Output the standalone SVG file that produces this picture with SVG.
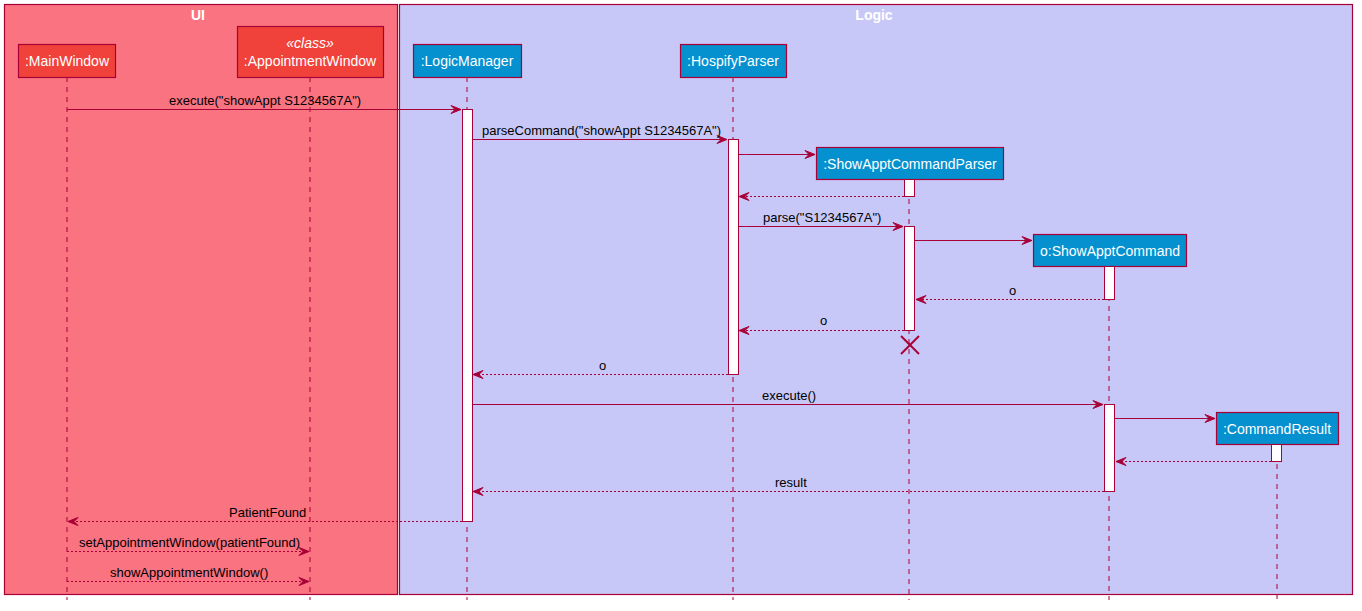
<svg xmlns="http://www.w3.org/2000/svg" width="1362" height="611" viewBox="0 0 1362 611">
<defs>
<style>
.box{stroke:#A80036;stroke-width:1.2}
.ui{fill:#F0423A}
.lg{fill:#0591CF}
.pn{font-family:"Liberation Sans",Arial,sans-serif;font-size:14px;fill:#FFFFFF;text-anchor:middle}
.ttl{font-family:"Liberation Sans",Arial,sans-serif;font-size:14px;font-weight:bold;fill:#FFFFFF;text-anchor:middle}
.msg{font-family:"Liberation Sans",Arial,sans-serif;font-size:13px;fill:#000000}
.life{stroke:#A80036;stroke-width:1;stroke-dasharray:5,5;fill:none}
.act{fill:#FFFFFF;stroke:#A80036;stroke-width:1}
.call{stroke:#A80036;stroke-width:1;fill:none}
.ret{stroke:#A80036;stroke-width:1;stroke-dasharray:2,2;fill:none}
.ah{fill:#A80036;stroke:#A80036;stroke-width:1}
</style>
</defs>
<rect width="1362" height="611" fill="#FFFFFF"/>
<g id="box-ui">
<rect x="4.5" y="4.5" width="393" height="590" fill="#F97381" stroke="#A80036" stroke-width="1.2"/>
<text class="ttl" x="198" y="20">UI</text>
</g>
<g id="box-logic">
<rect x="399.5" y="4.5" width="953" height="590" fill="#C8C8F8" stroke="#A80036" stroke-width="1.2"/>
<text class="ttl" x="874" y="20">Logic</text>
</g>
<g id="lifelines">
<line class="life" x1="67" y1="77" x2="67" y2="600"/>
<line class="life" x1="310" y1="77" x2="310" y2="600"/>
<line class="life" x1="467" y1="77" x2="467" y2="600"/>
<line class="life" x1="733" y1="77" x2="733" y2="600"/>
<line class="life" x1="909" y1="179" x2="909" y2="600"/>
<line class="life" x1="1109" y1="266" x2="1109" y2="600"/>
<line class="life" x1="1277" y1="444" x2="1277" y2="600"/>
</g>
<g id="MainWindow">
<rect class="box ui" x="18.5" y="44.5" width="97" height="33"/>
<text class="pn" x="67" y="66">:MainWindow</text>
</g>
<g id="AppointmentWindow">
<rect class="box ui" x="237.5" y="26.5" width="146" height="51"/>
<text class="pn" x="310" y="48" font-style="italic">«class»</text>
<text class="pn" x="310" y="66">:AppointmentWindow</text>
</g>
<g id="LogicManager">
<rect class="box lg" x="413.5" y="44.5" width="108" height="33"/>
<text class="pn" x="467" y="66">:LogicManager</text>
</g>
<g id="HospifyParser">
<rect class="box lg" x="680.5" y="44.5" width="106" height="33"/>
<text class="pn" x="733" y="66">:HospifyParser</text>
</g>
<g id="ShowApptCommandParser">
<rect class="box lg" x="816.5" y="147.5" width="187" height="32"/>
<text class="pn" x="910" y="169">:ShowApptCommandParser</text>
</g>
<g id="ShowApptCommand">
<rect class="box lg" x="1033.5" y="234.5" width="153" height="32"/>
<text class="pn" x="1110" y="256">o:ShowApptCommand</text>
</g>
<g id="CommandResult">
<rect class="box lg" x="1216.5" y="412.5" width="122" height="32"/>
<text class="pn" x="1277" y="434">:CommandResult</text>
</g>
<g id="activations">
<rect class="act" x="462.5" y="109.5" width="10" height="412"/>
<rect class="act" x="728.5" y="139.5" width="10" height="235"/>
<rect class="act" x="904.5" y="179.5" width="10" height="17"/>
<rect class="act" x="904.5" y="226.5" width="10" height="104"/>
<rect class="act" x="1104.5" y="266.5" width="10" height="33"/>
<rect class="act" x="1104.5" y="404.5" width="10" height="87"/>
<rect class="act" x="1271.5" y="444.5" width="10" height="17"/>
</g>
<g id="connectors">
<line class="call" x1="67" y1="109.5" x2="460" y2="109.5"/>
<polygon class="ah" points="451,105.5 461,109.5 451,113.5 455,109.5"/>
<text class="msg" x="169" y="105">execute("showAppt S1234567A")</text>

<line class="call" x1="473" y1="139.5" x2="726" y2="139.5"/>
<polygon class="ah" points="717,135.5 727,139.5 717,143.5 721,139.5"/>
<text class="msg" x="482" y="135">parseCommand("showAppt S1234567A")</text>

<line class="call" x1="739" y1="154.5" x2="815" y2="154.5"/>
<polygon class="ah" points="805,150.5 815,154.5 805,158.5 809,154.5"/>

<line class="ret" x1="904" y1="196.5" x2="740" y2="196.5"/>
<polygon class="ah" points="749,192.5 739,196.5 749,200.5 745,196.5"/>

<line class="call" x1="739" y1="226.5" x2="902" y2="226.5"/>
<polygon class="ah" points="893,222.5 903,226.5 893,230.5 897,226.5"/>
<text class="msg" x="763" y="222">parse("S1234567A")</text>

<line class="call" x1="915" y1="240.5" x2="1032" y2="240.5"/>
<polygon class="ah" points="1022,236.5 1032,240.5 1022,244.5 1026,240.5"/>

<line class="ret" x1="1104" y1="299.5" x2="917" y2="299.5"/>
<polygon class="ah" points="926,295.5 916,299.5 926,303.5 922,299.5"/>
<text class="msg" x="1009" y="295">o</text>

<line class="ret" x1="904" y1="330.5" x2="740" y2="330.5"/>
<polygon class="ah" points="749,326.5 739,330.5 749,334.5 745,330.5"/>
<text class="msg" x="820" y="325">o</text>

<line x1="901" y1="336" x2="919" y2="354" stroke="#A80036" stroke-width="2"/>
<line x1="919" y1="336" x2="901" y2="354" stroke="#A80036" stroke-width="2"/>

<line class="ret" x1="728" y1="374.5" x2="474" y2="374.5"/>
<polygon class="ah" points="483,370.5 473,374.5 483,378.5 479,374.5"/>
<text class="msg" x="599" y="370">o</text>

<line class="call" x1="473" y1="404.5" x2="1102" y2="404.5"/>
<polygon class="ah" points="1093,400.5 1103,404.5 1093,408.5 1097,404.5"/>
<text class="msg" x="762" y="400">execute()</text>

<line class="call" x1="1115" y1="418.5" x2="1215" y2="418.5"/>
<polygon class="ah" points="1205,414.5 1215,418.5 1205,422.5 1209,418.5"/>

<line class="ret" x1="1271" y1="461.5" x2="1117" y2="461.5"/>
<polygon class="ah" points="1126,457.5 1116,461.5 1126,465.5 1122,461.5"/>

<line class="ret" x1="1104" y1="491.5" x2="474" y2="491.5"/>
<polygon class="ah" points="483,487.5 473,491.5 483,495.5 479,491.5"/>
<text class="msg" x="775" y="487">result</text>

<line class="ret" x1="462" y1="521.5" x2="69" y2="521.5"/>
<polygon class="ah" points="78,517.5 68,521.5 78,525.5 74,521.5"/>
<text class="msg" x="229" y="517">PatientFound</text>

<line class="ret" x1="67" y1="551.5" x2="308" y2="551.5"/>
<polygon class="ah" points="299,547.5 309,551.5 299,555.5 303,551.5"/>
<text class="msg" x="79" y="547">setAppointmentWindow(patientFound)</text>

<line class="ret" x1="67" y1="581.5" x2="308" y2="581.5"/>
<polygon class="ah" points="299,577.5 309,581.5 299,585.5 303,581.5"/>
<text class="msg" x="110" y="577">showAppointmentWindow()</text>
</g>
</svg>
